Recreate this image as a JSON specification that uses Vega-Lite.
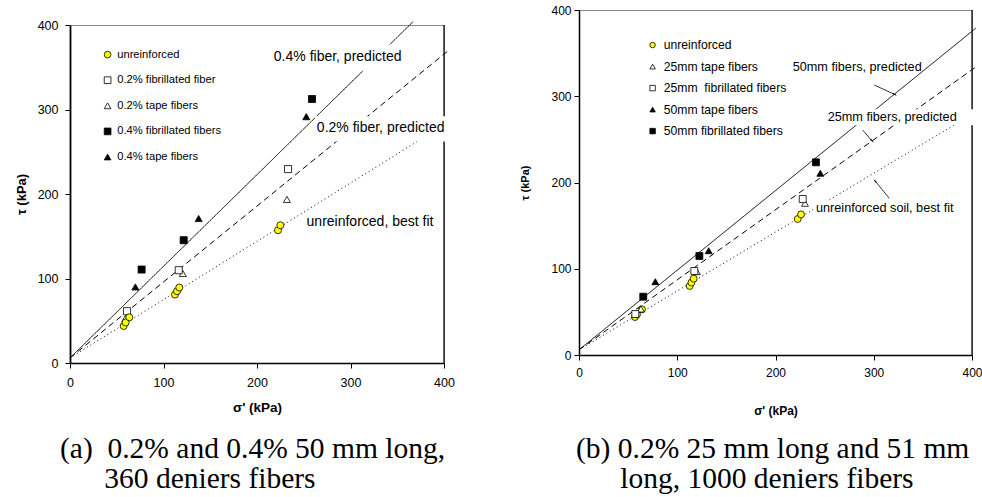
{
  "$schema": "https://vega.github.io/schema/vega-lite/v6.json",
  "padding": {"left": 14, "top": 3, "right": 0, "bottom": 0},
  "background": "white",
  "config": {
    "view": {"stroke": "#8a8a8a", "strokeWidth": 1},
    "font": "Liberation Sans",
    "axis": {"grid": false, "labelFlush": false, "labelOverlap": false, "domainColor": "black", "tickColor": "black", "labelColor": "black", "titleColor": "black", "labelFont": "Liberation Sans", "titleFont": "Liberation Sans", "titleFontWeight": "bold"},
    "legend": {"padding": 0}
  },
  "hconcat": [
    {
      "vconcat": [
        {
          "width": 374, "height": 8,
          "view": {"stroke": null},
          "data": {"values": [{}]},
          "mark": {"type": "point", "opacity": 0},
          "encoding": {}
        },
        {
          "width": 374, "height": 338,
          "title": {"text": ["(a)\u00a0\u00a00.2% and 0.4% 50 mm long,", "\u200b\u00a0\u00a0\u00a0\u00a0\u00a0\u00a0360 deniers fibers"], "orient": "bottom", "anchor": "start", "frame": "group", "dx": -10, "offset": 21, "font": "Liberation Serif", "fontSize": 29.5, "fontWeight": "normal", "lineHeight": 30, "color": "black"},
          "encoding": {
            "x": {"field": "x", "type": "quantitative", "scale": {"domain": [0, 400], "nice": false}, "axis": {"title": "σ' (kPa)", "values": [0, 100, 200, 300, 400], "domainWidth": 1.5, "tickSize": 5, "labelFontSize": 12.5, "labelPadding": 8, "titleFontSize": 13.5, "titlePadding": 12}},
            "y": {"field": "y", "type": "quantitative", "scale": {"domain": [0, 400], "nice": false}, "axis": {"title": "τ (kPa)", "values": [0, 100, 200, 300, 400], "domainWidth": 1.8, "tickSize": 5, "labelFontSize": 12.5, "labelPadding": 7, "titleFontSize": 13, "titlePadding": 9}}
          },
          "layer": [
            {
              "data": {"values": [{"x": 400, "y": 0, "y2": 400}]},
              "mark": {"type": "rule", "color": "black", "strokeWidth": 1.2},
              "encoding": {"y2": {"field": "y2"}}
            },
            {
              "data": {"values": [
                {"fit": "0.4% fiber, predicted", "x": 0, "y": 6},
                {"fit": "0.4% fiber, predicted", "x": 367, "y": 404},
                {"fit": "0.2% fiber, predicted", "x": 0, "y": 6},
                {"fit": "0.2% fiber, predicted", "x": 405, "y": 370},
                {"fit": "unreinforced, best fit", "x": 0, "y": 6},
                {"fit": "unreinforced, best fit", "x": 400, "y": 282}
              ]},
              "mark": {"type": "line", "color": "black", "strokeWidth": 1},
              "encoding": {
                "strokeDash": {"field": "fit", "type": "nominal", "scale": {"domain": ["0.4% fiber, predicted", "0.2% fiber, predicted", "unreinforced, best fit"], "range": [[1, 0], [6, 4], [1, 3]]}, "legend": null}
              }
            },
            {
              "data": {"values": [
                {"x": 213, "x2": 356, "y": 346, "y2": 377},
                {"x": 262, "x2": 404, "y": 262, "y2": 292}
              ]},
              "mark": {"type": "rect", "fill": "white"},
              "encoding": {"x2": {"field": "x2"}, "y2": {"field": "y2"}}
            },
            {
              "data": {"values": [
                {"x": 218, "y": 362, "label": "0.4% fiber, predicted"},
                {"x": 264, "y": 278, "label": "0.2% fiber, predicted"},
                {"x": 253, "y": 167, "label": "unreinforced, best fit"}
              ]},
              "mark": {"type": "text", "align": "left", "baseline": "middle", "fontSize": 14, "font": "Liberation Sans", "color": "black"},
              "encoding": {"text": {"field": "label"}}
            },
            {
              "data": {"values": [
                {"series": "0.2% tape fibers", "x": 59.2, "y": 52.6},
                {"series": "0.2% tape fibers", "x": 120.6, "y": 105.9},
                {"series": "0.2% tape fibers", "x": 232, "y": 193.6},
                {"series": "0.2% fibrillated fiber", "x": 61, "y": 61.3},
                {"series": "0.2% fibrillated fiber", "x": 116.3, "y": 109.8},
                {"series": "0.2% fibrillated fiber", "x": 233.2, "y": 229.5},
                {"series": "unreinforced", "x": 57.4, "y": 43.8},
                {"series": "unreinforced", "x": 59.5, "y": 48},
                {"series": "unreinforced", "x": 63.4, "y": 54.1},
                {"series": "unreinforced", "x": 112.3, "y": 81},
                {"series": "unreinforced", "x": 114.5, "y": 85},
                {"series": "unreinforced", "x": 116.9, "y": 89.3},
                {"series": "unreinforced", "x": 222.5, "y": 157.2},
                {"series": "unreinforced", "x": 225, "y": 163},
                {"series": "0.4% fibrillated fibers", "x": 76.6, "y": 110.6},
                {"series": "0.4% fibrillated fibers", "x": 121.6, "y": 145.3},
                {"series": "0.4% fibrillated fibers", "x": 258.8, "y": 312.4},
                {"series": "0.4% tape fibers", "x": 69.9, "y": 90},
                {"series": "0.4% tape fibers", "x": 137.6, "y": 171},
                {"series": "0.4% tape fibers", "x": 252.7, "y": 291.5}
              ]},
              "mark": {"type": "point", "filled": true, "strokeWidth": 0.8, "size": 50, "opacity": 1},
              "encoding": {
                "shape": {"field": "series", "type": "nominal", "scale": {"domain": ["unreinforced", "0.2% fibrillated fiber", "0.2% tape fibers", "0.4% fibrillated fibers", "0.4% tape fibers"], "range": ["circle", "square", "triangle-up", "square", "triangle-up"]},
                  "legend": {"orient": "none", "legendX": 32, "legendY": 39, "title": null, "labelFontSize": 11.2, "labelFont": "Liberation Sans", "labelColor": "black", "rowPadding": 13.6, "symbolSize": 45, "symbolStrokeWidth": 0.8, "labelOffset": 4, "padding": 0}},
                "fill": {"field": "series", "type": "nominal", "scale": {"domain": ["unreinforced", "0.2% fibrillated fiber", "0.2% tape fibers", "0.4% fibrillated fibers", "0.4% tape fibers"], "range": ["#FFFF00", "white", "white", "black", "black"]},
                  "legend": {"orient": "none", "legendX": 32, "legendY": 39, "title": null, "labelFontSize": 11.2, "labelFont": "Liberation Sans", "labelColor": "black", "rowPadding": 13.6, "symbolSize": 45, "symbolStrokeWidth": 0.8, "labelOffset": 4, "padding": 0}},
                "stroke": {"field": "series", "type": "nominal", "scale": {"domain": ["unreinforced", "0.2% fibrillated fiber", "0.2% tape fibers", "0.4% fibrillated fibers", "0.4% tape fibers"], "range": ["black", "black", "black", "black", "black"]},
                  "legend": {"orient": "none", "legendX": 32, "legendY": 39, "title": null, "labelFontSize": 11.2, "labelFont": "Liberation Sans", "labelColor": "black", "rowPadding": 13.6, "symbolSize": 45, "symbolStrokeWidth": 0.8, "labelOffset": 4, "padding": 0}}
              }
            }
          ]
        }
      ],
      "spacing": 0
    },
    {
      "width": 393, "height": 345,
      "title": {"text": ["(b) 0.2% 25 mm long and 51 mm", "\u200b\u00a0\u00a0\u00a0\u00a0\u00a0\u00a0long, 1000 deniers fibers"], "orient": "bottom", "anchor": "start", "frame": "group", "dx": -3, "offset": 19, "font": "Liberation Serif", "fontSize": 29.5, "fontWeight": "normal", "lineHeight": 30, "color": "black"},
      "encoding": {
        "x": {"field": "x", "type": "quantitative", "scale": {"domain": [0, 400], "nice": false}, "axis": {"title": "σ' (kPa)", "values": [0, 100, 200, 300, 400], "domainWidth": 1.5, "tickSize": 5, "labelFontSize": 12, "labelPadding": 7, "titleFontSize": 12, "titlePadding": 27}},
        "y": {"field": "y", "type": "quantitative", "scale": {"domain": [0, 400], "nice": false}, "axis": {"title": "τ (kPa)", "values": [0, 100, 200, 300, 400], "domainWidth": 1.5, "tickSize": 5, "labelFontSize": 12, "labelPadding": 3, "titleFontSize": 11, "titlePadding": 20}}
      },
      "layer": [
        {
          "data": {"values": [{"x": 400, "y": 0, "y2": 400}]},
          "mark": {"type": "rule", "color": "black", "strokeWidth": 1.2},
          "encoding": {"y2": {"field": "y2"}}
        },
        {
          "data": {"values": [
            {"fit": "50mm fibers, predicted", "x": 0, "y": 6},
            {"fit": "50mm fibers, predicted", "x": 404, "y": 379},
            {"fit": "25mm fibers, predicted", "x": 0, "y": 6},
            {"fit": "25mm fibers, predicted", "x": 404, "y": 334},
            {"fit": "unreinforced soil, best fit", "x": 0, "y": 6},
            {"fit": "unreinforced soil, best fit", "x": 400, "y": 279}
          ]},
          "mark": {"type": "line", "color": "black", "strokeWidth": 1},
          "encoding": {
            "strokeDash": {"field": "fit", "type": "nominal", "scale": {"domain": ["50mm fibers, predicted", "25mm fibers, predicted", "unreinforced soil, best fit"], "range": [[1, 0], [6, 4], [1, 3]]}, "legend": null}
          }
        },
        {
          "data": {"values": [
            {"x": 249, "x2": 405, "y": 266.5, "y2": 285},
            {"x": 239, "x2": 384, "y": 161, "y2": 178.5}
          ]},
          "mark": {"type": "rect", "fill": "white"},
          "encoding": {"x2": {"field": "x2"}, "y2": {"field": "y2"}}
        },
        {
          "data": {"values": [
            {"x": 217.5, "y": 334.3, "label": "50mm fibers, predicted"},
            {"x": 253.1, "y": 275.6, "label": "25mm fibers, predicted"},
            {"x": 241.2, "y": 170.1, "label": "unreinforced soil, best fit"}
          ]},
          "mark": {"type": "text", "align": "left", "baseline": "middle", "fontSize": 12.7, "font": "Liberation Sans", "color": "black"},
          "encoding": {"text": {"field": "label"}}
        },
        {
          "data": {"values": [
            {"x": 300.6, "y": 313, "x2": 322.6, "y2": 301.4},
            {"x": 288.7, "y": 260.9, "x2": 298.9, "y2": 247.3},
            {"x": 315.8, "y": 181.7, "x2": 300.6, "y2": 202.9}
          ]},
          "mark": {"type": "rule", "color": "black", "strokeWidth": 0.8},
          "encoding": {"x2": {"field": "x2"}, "y2": {"field": "y2"}}
        },
        {
          "data": {"values": [
            {"x": 321, "y": 302.2, "heading": 114.7},
            {"x": 297.8, "y": 248.8, "heading": 139.5},
            {"x": 301.7, "y": 201.4, "heading": 320.6}
          ]},
          "mark": {"type": "point", "shape": "wedge", "filled": true, "color": "black", "size": 28, "opacity": 1},
          "encoding": {"angle": {"field": "heading", "type": "quantitative", "scale": null}}
        },
        {
          "data": {"values": [
            {"series": "unreinforced", "x": 57, "y": 44},
            {"series": "unreinforced", "x": 59, "y": 47},
            {"series": "unreinforced", "x": 64.1, "y": 53},
            {"series": "unreinforced", "x": 112.7, "y": 80},
            {"series": "unreinforced", "x": 114.5, "y": 84},
            {"series": "unreinforced", "x": 116.7, "y": 88.5},
            {"series": "unreinforced", "x": 222.6, "y": 157.7},
            {"series": "unreinforced", "x": 226, "y": 163},
            {"series": "25mm tape fibers", "x": 63, "y": 53.3},
            {"series": "25mm tape fibers", "x": 120, "y": 96.6},
            {"series": "25mm tape fibers", "x": 230, "y": 175.9},
            {"series": "25mm\u00a0 fibrillated fibers", "x": 57.3, "y": 47.5},
            {"series": "25mm\u00a0 fibrillated fibers", "x": 117.4, "y": 97.4},
            {"series": "25mm\u00a0 fibrillated fibers", "x": 227.7, "y": 180.9},
            {"series": "50mm tape fibers", "x": 77.7, "y": 85},
            {"series": "50mm tape fibers", "x": 132, "y": 120.9},
            {"series": "50mm tape fibers", "x": 245.6, "y": 210.7},
            {"series": "50mm fibrillated fibers", "x": 65.4, "y": 67.6},
            {"series": "50mm fibrillated fibers", "x": 122.5, "y": 114.8},
            {"series": "50mm fibrillated fibers", "x": 241.2, "y": 223.4}
          ]},
          "mark": {"type": "point", "filled": true, "strokeWidth": 0.8, "size": 48, "opacity": 1},
          "encoding": {
            "shape": {"field": "series", "type": "nominal", "scale": {"domain": ["unreinforced", "25mm tape fibers", "25mm\u00a0 fibrillated fibers", "50mm tape fibers", "50mm fibrillated fibers"], "range": ["circle", "triangle-up", "square", "triangle-up", "square"]},
              "legend": {"orient": "none", "legendX": 67.5, "legendY": 29, "title": null, "labelFontSize": 12.2, "labelFont": "Liberation Sans", "labelColor": "black", "rowPadding": 8.5, "symbolSize": 30, "symbolStrokeWidth": 0.8, "labelOffset": 5, "padding": 0}},
            "fill": {"field": "series", "type": "nominal", "scale": {"domain": ["unreinforced", "25mm tape fibers", "25mm\u00a0 fibrillated fibers", "50mm tape fibers", "50mm fibrillated fibers"], "range": ["#FFFF00", "white", "white", "black", "black"]},
              "legend": {"orient": "none", "legendX": 67.5, "legendY": 29, "title": null, "labelFontSize": 12.2, "labelFont": "Liberation Sans", "labelColor": "black", "rowPadding": 8.5, "symbolSize": 30, "symbolStrokeWidth": 0.8, "labelOffset": 5, "padding": 0}},
            "stroke": {"field": "series", "type": "nominal", "scale": {"domain": ["unreinforced", "25mm tape fibers", "25mm\u00a0 fibrillated fibers", "50mm tape fibers", "50mm fibrillated fibers"], "range": ["black", "black", "black", "black", "black"]},
              "legend": {"orient": "none", "legendX": 67.5, "legendY": 29, "title": null, "labelFontSize": 12.2, "labelFont": "Liberation Sans", "labelColor": "black", "rowPadding": 8.5, "symbolSize": 30, "symbolStrokeWidth": 0.8, "labelOffset": 5, "padding": 0}}
          }
        }
      ]
    }
  ],
  "spacing": 64,
  "resolve": {"scale": {"shape": "independent", "fill": "independent", "stroke": "independent", "strokeDash": "independent"}}
}
